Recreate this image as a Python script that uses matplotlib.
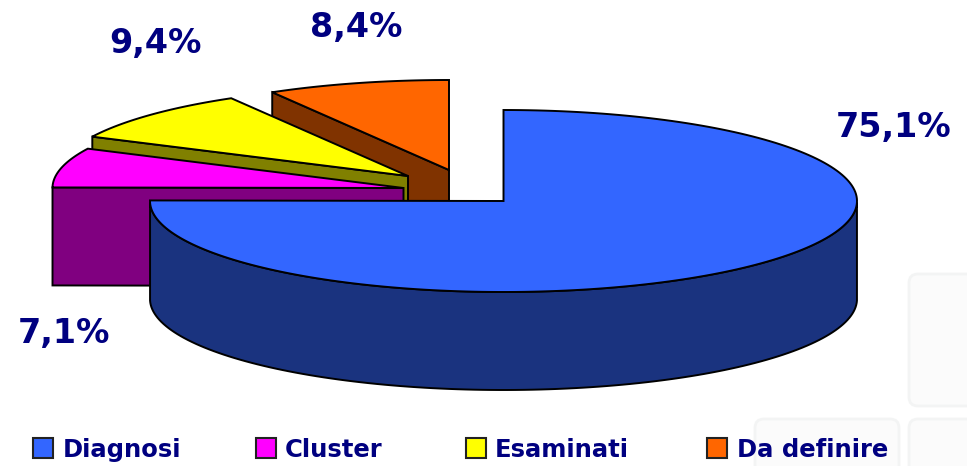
"""
3D style pie chart drawn on a pixel sized axes.
"""

import numpy as np
import matplotlib.pyplot as plt
from matplotlib.patches import FancyBboxPatch, Polygon, Rectangle

categories = ["Diagnosi", "Cluster", "Esaminati", "Da definire"]
values = [75.1, 7.1, 9.4, 8.4]
value_labels = ["75,1%", "7,1%", "9,4%", "8,4%"]
top_colors = ["#3366FF", "#FF00FF", "#FFFF00", "#FF6600"]
side_colors = ["#1A337F", "#800080", "#808000", "#803300"]

TEXT_COLOR = "#000080"
FONT = "DejaVu Sans"

# pie centres of the exploded slices, rx, ry, depth
centers = [(503.5, 201), (403.5, 188), (408, 176), (449, 170)]
radii = [(353.5, 91), (351, 90), (351, 90), (351, 90)]
depth = 98

label_pos = [(894, 127), (64, 333), (155, 44), (356, 27)]
legend_x = [33, 256, 466, 707]
legend_text_x = [63, 285, 495, 737]


def rim(center, radius, start, end):
    """
    Points along the ellipse between two angles in degrees.
    """

    t = np.radians(np.linspace(start, end, 200))
    x = center[0] + radius[0] * np.cos(t)
    y = center[1] - radius[1] * np.sin(t)
    return np.column_stack([x, y])


def draw_slice(ax, i, start, end):
    """
    Draw the visible side faces and the top of one slice.
    """

    center = np.array(centers[i], dtype=float)
    drop = np.array([0, depth])
    arc = rim(center, radii[i], start, end)
    style = dict(edgecolor="black", linewidth=1.4, joinstyle="miter")

    # only the cut at the start of the slice faces the viewer
    p = arc[0]
    face = np.array([center, p, p + drop, center + drop])
    ax.add_patch(Polygon(face, facecolor=side_colors[i], **style))

    # front of the rim, only where it faces the viewer
    t = np.linspace(start, end, 200)
    front = arc[np.sin(np.radians(t)) <= 0.001]
    if len(front):
        wall = np.vstack([front, (front + drop)[::-1]])
        ax.add_patch(Polygon(wall, facecolor=side_colors[i], **style))

    top = np.vstack([center, arc])
    ax.add_patch(Polygon(top, facecolor=top_colors[i], **style))


def main():
    fig = plt.figure(figsize=(9.67, 4.66), dpi=100)
    ax = fig.add_axes([0, 0, 1, 1])
    ax.set_xlim(0, 967)
    ax.set_ylim(466, 0)
    ax.axis("off")

    # faint tiles of the slide background
    for x, y, w, h in [(909, 274, 80, 132), (755, 419, 144, 60), (909, 419, 80, 60)]:
        ax.add_patch(FancyBboxPatch((x, y), w, h, boxstyle="round,pad=0,rounding_size=9",
                                    facecolor="#FBFBFB", edgecolor="#F3F4F4", linewidth=2))

    # slices run clockwise from the top
    ends = 90 - np.cumsum(values) * 3.6
    starts = np.concatenate([[90], ends[:-1]])

    for i in [3, 2, 1, 0]:
        draw_slice(ax, i, starts[i], ends[i])

    for pos, label in zip(label_pos, value_labels):
        ax.text(pos[0], pos[1], label, color=TEXT_COLOR, fontsize=24, fontweight="bold",
                family=FONT, ha="center", va="center")

    for x, tx, name, color in zip(legend_x, legend_text_x, categories, top_colors):
        ax.add_patch(Rectangle((x, 438), 20, 20, facecolor=color, edgecolor="#222222", linewidth=1.5))
        ax.text(tx, 457, name, color=TEXT_COLOR, fontsize=17.5, fontweight="bold",
                family=FONT, ha="left", va="baseline")

    fig.savefig("out.png", dpi=100)
    plt.close(fig)


main()
